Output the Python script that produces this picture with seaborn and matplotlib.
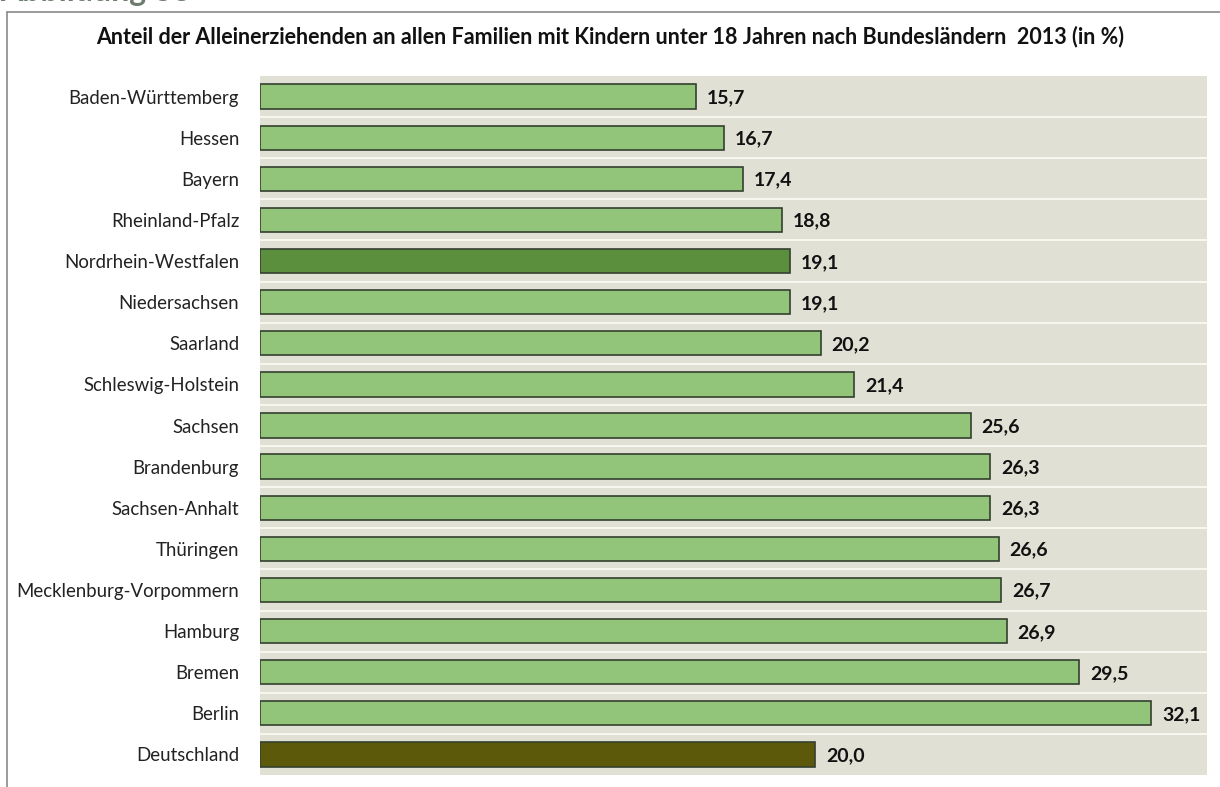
import matplotlib
matplotlib.use("Agg")
import matplotlib.pyplot as plt
from matplotlib.lines import Line2D
import seaborn as sns
import pandas as pd

categories = ["Baden-Württemberg", "Hessen", "Bayern", "Rheinland-Pfalz",
              "Nordrhein-Westfalen", "Niedersachsen", "Saarland", "Schleswig-Holstein",
              "Sachsen", "Brandenburg", "Sachsen-Anhalt", "Thüringen",
              "Mecklenburg-Vorpommern", "Hamburg", "Bremen", "Berlin", "Deutschland"]
values = [15.7, 16.7, 17.4, 18.8, 19.1, 19.1, 20.2, 21.4, 25.6, 26.3, 26.3, 26.6,
          26.7, 26.9, 29.5, 32.1, 20.0]
value_labels = ["15,7", "16,7", "17,4", "18,8", "19,1", "19,1", "20,2", "21,4", "25,6",
                "26,3", "26,3", "26,6", "26,7", "26,9", "29,5", "32,1", "20,0"]
title = "Anteil der Alleinerziehenden an allen Familien mit Kindern unter 18 Jahren nach Bundesländern  2013 (in %)"

light = "#92c47a"
colors = [light] * len(categories)
colors[4] = "#5b8f3d"
colors[16] = "#5c5a0a"

df = pd.DataFrame({"land": categories, "wert": values})

sns.set_theme(style="white")
plt.rcParams["font.family"] = ["Lato", "DejaVu Sans"]

fig = plt.figure(figsize=(12.2, 7.87), dpi=100)
fig.patch.set_facecolor("white")
ax = fig.add_axes([260 / 1220, 1 - 775 / 787, (1207 - 260) / 1220, (775 - 76) / 787])
ax.set_facecolor("#e0e0d4")

sns.barplot(data=df, x="wert", y="land", hue="land", palette=colors, legend=False,
            orient="h", width=0.59, edgecolor="#34402f", linewidth=1.2, ax=ax,
            saturation=1)

ax.set_xlim(0, 34.1)
ax.set_ylim(len(categories) - 0.5, -0.5)
for i in range(len(categories) - 1):
    ax.axhline(i + 0.5, color="#f7f7f0", linewidth=1.5, zorder=0.5)

for i, (v, lab) in enumerate(zip(values, value_labels)):
    ax.text(v + 0.38, i + 0.03, lab, va="center", ha="left", fontsize=14,
            fontweight="bold", color="#111111")

ax.set_xlabel("")
ax.set_ylabel("")
ax.set_xticks([])
ax.tick_params(axis="y", length=0, pad=15, labelsize=13.4, labelcolor="#222222")
for s in ax.spines.values():
    s.set_visible(False)

fig.text(0.5, 1 - 37 / 787, title, ha="center", va="center", fontsize=15.5,
         fontweight="bold", color="#111111")
fig.text(0.0, 1 - 1.5 / 787, "Abbildung 33", ha="left", va="baseline", fontsize=23,
         fontweight="bold", color="#6d7d6d")

# outer frame lines
fig.add_artist(Line2D([7 / 1220, 7 / 1220], [0, 1 - 12 / 787], color="#8a8a8a", lw=1.2))
fig.add_artist(Line2D([7 / 1220, 1], [1 - 12 / 787, 1 - 12 / 787], color="#8a8a8a", lw=1.2))

fig.savefig("out.png", dpi=100, facecolor="white")
